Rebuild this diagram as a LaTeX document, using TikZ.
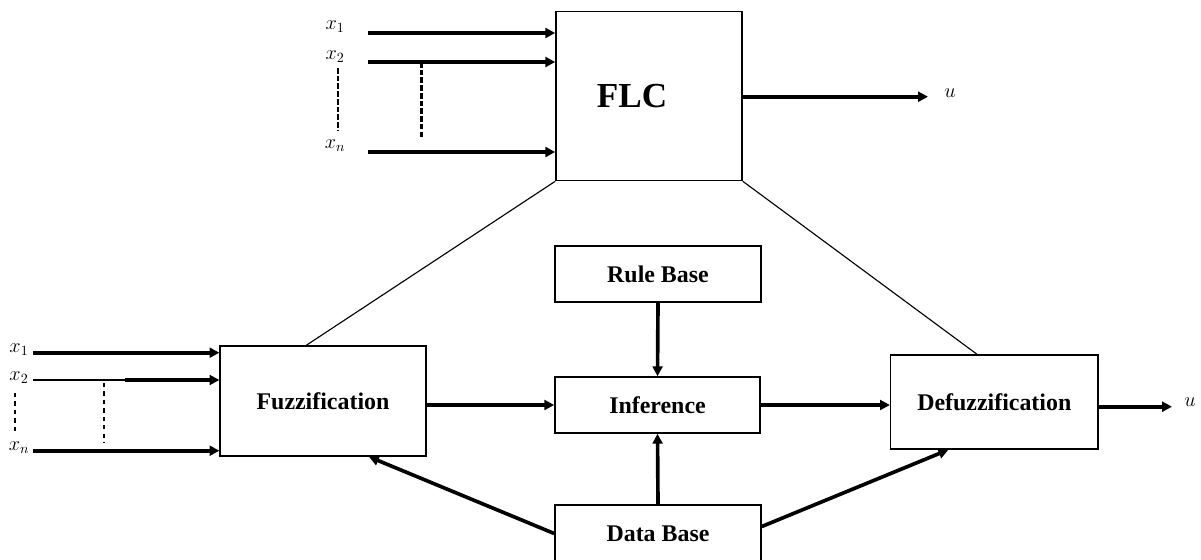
\documentclass[tikz,border=0pt]{standalone}
\usepackage{fontspec}
\setmainfont{Liberation Serif}
\usetikzlibrary{positioning,calc,arrows.meta}
\tikzstyle{block} = [rectangle, draw, line width=1.1pt, inner sep=0pt, font=\bfseries\fontsize{17}{20}\selectfont]
\tikzstyle{arrow} = [-{Triangle[length=7pt,width=7pt]}, line width=2.6pt]
\tikzstyle{link} = [line width=0.8pt]
\tikzstyle{dots} = [dash pattern=on 4pt off 1.5pt, line width=2pt]
\tikzstyle{sig} = [inner sep=0pt, font=\fontsize{14}{16}\selectfont]

\begin{document}
\begin{tikzpicture}[x=0.025cm, y=-0.025cm]
    \useasboundingbox (0,0) rectangle (1201,559);

    % Top block
    \node[block, minimum width=4.65cm, minimum height=4.225cm, font=\bfseries\fontsize{25}{30}\selectfont] (flc) at (649,96) {FLC\hspace*{24pt}};

    % Inner blocks
    \node[block, minimum width=5.15cm, minimum height=1.4cm] (rule) at (658,274) {Rule Base};
    \node[block, minimum width=5.125cm, minimum height=1.4cm] (infer) at (657.5,405) {Inference};
    \node[block, minimum width=5.15cm, minimum height=1.425cm] (data) at (658,533.5) {Data Base};
    \node[block, minimum width=5.14cm, minimum height=2.75cm] (fuzz) at (323,401) {Fuzzification};
    \node[block, minimum width=5.18cm, minimum height=2.35cm] (defuzz) at (994.3,402) {Defuzzification};

    % Inputs of FLC
    \node[sig] (tx1) at (335,27) {$x_1$};
    \node[sig] (tx2) at (335,57) {$x_2$};
    \node[sig] (txn) at (335,146) {$x_n$};
    \coordinate (ta1) at (368,33);
    \coordinate (ta2) at (368,62);
    \coordinate (tan) at (368,152);
    \draw[arrow] (ta1) -- (ta1 -| flc.west);
    \draw[arrow] (ta2) -- (ta2 -| flc.west);
    \draw[arrow] (tan) -- (tan -| flc.west);
    \draw[dots] (338,68) -- (338,131);
    \draw[dots] (421.5,62) -- (421.5,138);

    % Output of FLC
    \coordinate (tu) at (928,96.7);
    \node[sig] (tout) at (950,93) {$u$};
    \draw[arrow] (flc.east |- tu) -- (tu);

    % Inputs of fuzzification
    \node[sig] (bx1) at (19,350) {$x_1$};
    \node[sig] (bx2) at (19,378) {$x_2$};
    \node[sig] (bxn) at (19,448) {$x_n$};
    \coordinate (ba1) at (33,352.7);
    \coordinate (ba2) at (33,380);
    \coordinate (bk2) at (125,380);
    \coordinate (ban) at (33,450.7);
    \draw[arrow] (ba1) -- (ba1 -| fuzz.west);
    \draw[link] (ba2) -- (bk2);
    \draw[arrow] (bk2) -- (bk2 -| fuzz.west);
    \draw[arrow] (ban) -- (ban -| fuzz.west);
    \draw[dashed, line width=1.2pt] (15,393) -- (15,434);
    \draw[dashed, line width=1.2pt] (104,383) -- (104,443);

    % Output of defuzzification
    \coordinate (bu) at (1172,406.7);
    \node[sig] (bout) at (1190,402) {$u$};
    \draw[arrow] (defuzz.east |- bu) -- (bu);

    % Links to FLC
    \draw[link] (flc.south west) -- ($(fuzz.north west)+(87,0)$);
    \draw[link] (flc.south east) -- ($(defuzz.north west)+(87,0)$);

    % Flow
    \draw[arrow] (fuzz.east |- infer.west) -- (infer.west);
    \draw[arrow] (infer.east) -- (infer.east -| defuzz.west);
    \draw[arrow] (rule.south) -- (infer.north);
    \draw[arrow] (data.north) -- (infer.south);
    \draw[arrow] (data.west) -- ($(fuzz.south)+(46,0)$);
    \draw[arrow] ($(data.east)+(0,-7)$) -- ($(defuzz.south)+(-46,0)$);
\end{tikzpicture}
\end{document}
